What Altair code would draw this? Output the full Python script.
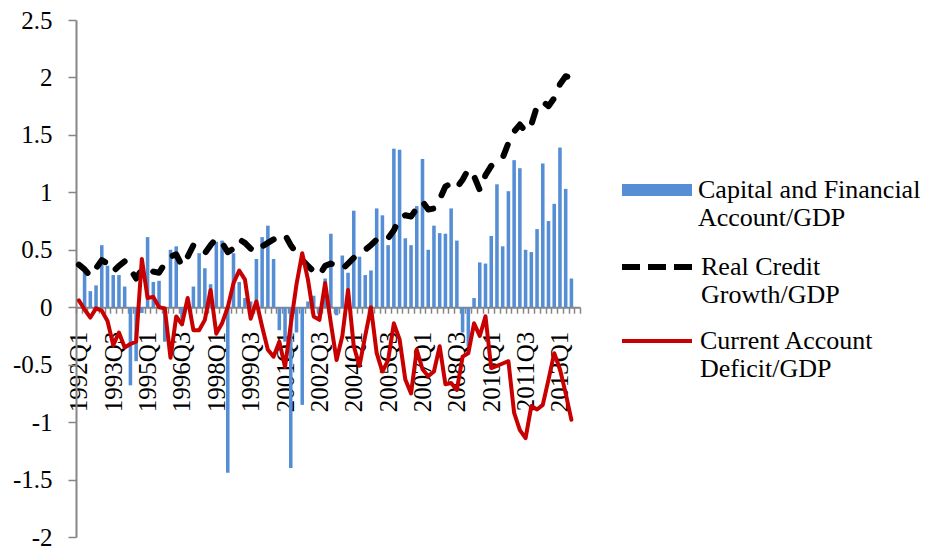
import altair as alt
import pandas as pd

# ---------------- data ----------------
years = list(range(1992, 2014))
quarters = [f"{y}Q{q}" for y in years for q in (1, 2, 3, 4)]  # 1992Q1 .. 2013Q4
label_quarters = quarters[::6]

CAP = "Capital and Financial|Account/GDP"
CRED = "Real Credit|Growth/GDP"
CUR = "Current Account|Deficit/GDP"

capital = [
    None, 0.33, 0.14, 0.19, 0.54, 0.36, 0.28, 0.28, 0.18, -0.68,
    -0.47, -0.05, 0.61, 0.22, 0.23, -0.30, 0.50, 0.53, -0.10, 0.05,
    0.18, 0.47, 0.34, 0.20, 0.57, 0.58, -1.44, 0.47, 0.22, 0.08,
    0.05, 0.42, 0.61, 0.71, 0.42, -0.20, -0.30, -1.40, -0.22, -0.85,
    0.05, 0.10, -0.10, 0.25, 0.64, -0.07, 0.45, 0.30, 0.84, 0.44,
    0.28, 0.32, 0.86, 0.80, 0.54, 1.38, 1.37, 0.60, 0.54, 0.88,
    1.29, 0.50, 0.71, 0.645, 0.64, 0.86, 0.58, -0.22, -0.34, 0.08,
    0.39, 0.38, 0.62, 1.07, 0.53, 1.01, 1.28, 1.21, 0.50, 0.48,
    0.68, 1.25, 0.75, 0.90, 1.39, 1.03, 0.25, None,
]

credit = [
    0.37, 0.33, 0.27, 0.34, 0.41, 0.38, 0.31, 0.36, 0.40, 0.33,
    0.25, 0.33, 0.34, 0.31, 0.30, 0.38, 0.44, 0.46, 0.36, 0.44,
    0.54, 0.51, 0.47, 0.54, 0.60, 0.56, 0.48, 0.51, 0.59, 0.56,
    0.51, 0.48, 0.53, 0.56, 0.59, 0.62, 0.63, 0.54, 0.47, 0.41,
    0.36, 0.31, 0.28, 0.36, 0.38, 0.36, 0.33, 0.38, 0.43, 0.47,
    0.50, 0.54, 0.59, 0.57, 0.60, 0.67, 0.78, 0.80, 0.79, 0.86,
    0.92, 0.85, 0.86, 0.94, 1.05, 1.08, 1.04, 1.11, 1.20, 1.14,
    1.02, 1.15, 1.23, 1.27, 1.30, 1.43, 1.53, 1.59, 1.53, 1.59,
    1.75, 1.79, 1.75, 1.82, 1.94, 2.01, 2.00,
]

current = [
    0.06, -0.02, -0.09, -0.01, -0.03, -0.12, -0.33, -0.22, -0.35, -0.32,
    -0.30, 0.42, 0.08, 0.09, 0.00, -0.01, -0.44, -0.08, -0.15, 0.08,
    -0.20, -0.20, -0.11, 0.15, -0.23, -0.14, 0.00, 0.21, 0.32, 0.24,
    -0.10, 0.05, -0.17, -0.37, -0.43, -0.30, -0.52, -0.15, 0.20, 0.47,
    0.24, -0.08, -0.11, 0.21, -0.14, -0.46, -0.25, 0.15, -0.34, -0.51,
    -0.25, 0.00, -0.40, -0.56, -0.46, -0.14, -0.28, -0.63, -0.75, -0.37,
    -0.54, -0.60, -0.56, -0.34, -0.67, -0.66, -0.72, -0.43, -0.40, -0.14,
    -0.25, -0.08, -0.53, -0.51, -0.49, -0.47, -0.92, -1.07, -1.14, -0.86,
    -0.89, -0.85, -0.63, -0.40, -0.54, -0.75, -0.98,
]

y_ticks = [-2, -1.5, -1, -0.5, 0, 0.5, 1, 1.5, 2, 2.5]

BLUE = "#558ED5"
BLACK = "#000000"
RED = "#C80000"
GRAY = "#868686"
FONT = "Liberation Serif"

bars_df = pd.DataFrame({"quarter": quarters, "value": capital, "series": CAP}).dropna()
cred_df = pd.DataFrame({"quarter": quarters[:len(credit)], "value": credit, "series": CRED})
cur_df = pd.DataFrame({"quarter": quarters[:len(current)], "value": current, "series": CUR})

# ---------------- layout ----------------
W, H = 504, 517
YMIN, YMAX = -2, 2.5
zero_offset = -(H * (0 - YMIN) / (YMAX - YMIN))

x_scale = alt.Scale(domain=quarters, paddingInner=0, paddingOuter=0)
y_scale = alt.Scale(domain=[YMIN, YMAX], nice=False, zero=False)

label_expr = ("indexof([" + ",".join(f"'{q}'" for q in label_quarters)
              + "], datum.value) >= 0 ? datum.value : ''")

x_axis = alt.Axis(
    title=None, labelAngle=-90, labelExpr=label_expr, labelOverlap=False,
    tickBand="extent", offset=zero_offset, domainColor=GRAY, domainWidth=2,
    tickColor=GRAY, tickWidth=1.5, tickSize=6, labelFont=FONT, labelFontSize=25,
    labelColor="black", labelPadding=18, grid=False,
)
y_axis = alt.Axis(
    title=None, values=y_ticks, labelExpr="toString(datum.value)",
    domainColor=GRAY, domainWidth=2, tickColor=GRAY, tickWidth=1.5, tickSize=8,
    labelFont=FONT, labelFontSize=25, labelColor="black", labelPadding=16, grid=False,
)

X = alt.X("quarter:N", scale=x_scale, axis=x_axis)
Y = alt.Y("value:Q", scale=y_scale, axis=y_axis)

common_leg = dict(
    orient="none", title=None, labelExpr="split(datum.label, '|')",
    labelFont=FONT, labelFontSize=26, labelColor="black", labelOffset=6,
    labelLimit=400,
)

bars = alt.Chart(bars_df).mark_bar(width=alt.RelativeBandSize(0.62)).encode(
    x=X, y=Y,
    color=alt.Color("series:N", scale=alt.Scale(domain=[CAP], range=[BLUE]),
                    legend=alt.Legend(symbolType="M-1,-0.17L1,-0.17L1,0.17L-1,0.17Z",
                                      symbolSize=4900, symbolStrokeWidth=0,
                                      legendX=546, legendY=135, **common_leg)),
)

cred_line = alt.Chart(cred_df).mark_line(
    strokeWidth=6, strokeDash=[12, 16], strokeCap="round", strokeJoin="round"
).encode(
    x=X, y=Y,
    color=alt.Color("series:N", scale=alt.Scale(domain=[CRED], range=[BLACK]),
                    legend=alt.Legend(symbolType="stroke", symbolSize=4900,
                                      symbolStrokeWidth=6, symbolDash=[18, 8],
                                      legendX=543, legendY=209, **common_leg)),
)

cur_line = alt.Chart(cur_df).mark_line(
    strokeWidth=4, strokeJoin="round", strokeCap="round"
).encode(
    x=X, y=Y,
    color=alt.Color("series:N", scale=alt.Scale(domain=[CUR], range=[RED]),
                    legend=alt.Legend(symbolType="stroke", symbolSize=4900,
                                      symbolStrokeWidth=4,
                                      legendX=544, legendY=284, **common_leg)),
)

chart = alt.layer(bars, cred_line, cur_line).resolve_scale(color="independent").properties(
    width=W, height=H,
    padding={"left": 68, "top": 12, "right": 342, "bottom": 12},
    autosize=alt.AutoSizeParams(type="none"),
    background="white",
).configure_view(stroke=None)

chart.save("out.html", embed_options={"renderer": "svg", "actions": False})
